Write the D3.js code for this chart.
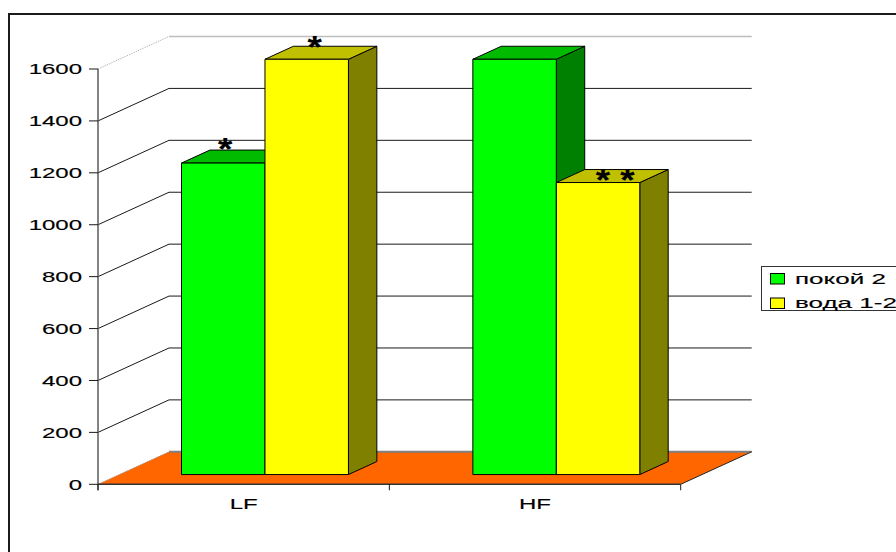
<!DOCTYPE html>
<html>
<head>
<meta charset="utf-8">
<script src="https://cdn.jsdelivr.net/npm/d3@7"></script>
<style>
  html, body { margin: 0; padding: 0; background: #fff; }
  svg { display: block; }
</style>
</head>
<body>
<svg id="chart" width="896" height="552"></svg>
<script>
// ---- data ----
const categories = ["LF", "HF"];
const seriesNames = ["покой 2", "вода 1-2"];
const restValues = [1200, 1600];   // покой 2
const waterValues = [1600, 1125];  // вода 1-2
const yTickValues = [0, 200, 400, 600, 800, 1000, 1200, 1400, 1600];
// significance marks: [category, series index, text]
const marks = [["LF", 0, "*"], ["LF", 1, "*"], ["HF", 1, "* *"]];

// ---- layout / style ----
const seriesFront = ["#00ff00", "#ffff00"];
const seriesTop = ["#00bb00", "#c0c000"];
const seriesSide = ["#008000", "#808000"];
const floorColor = "#ff6600";
const font = "'Liberation Sans', Arial, sans-serif";
const stretch = 1.6;              // wide, horizontally stretched lettering
const depth = { dx: 71, dy: -32.5 };
const barZ = [0.3, 0.7];          // bar position inside the depth of the box
const markNudge = [[2, -22], [8, -20], [17, -10]];

const svg = d3.select("#chart");

const x = d3.scaleBand().domain(categories).range([98, 680.7]);
const y = d3.scaleLinear().domain([0, 1600]).range([484.3, 69]);
const inner = d3.scaleBand().domain(d3.range(seriesNames.length))
  .range([x.bandwidth() * 0.2135, x.bandwidth() * 0.7865]);

const P = (px, v, z) => [px + z * depth.dx, y(v) + z * depth.dy];
const poly = pts => "M" + pts.map(p => p.join(",")).join("L") + "Z";

function label(g, tx, ty, text, anchor, size, weight, sx) {
  return g.append("text")
    .attr("transform", `translate(${tx},${ty}) scale(${sx || stretch},1)`)
    .attr("text-anchor", anchor)
    .attr("font-family", font)
    .attr("font-size", size)
    .attr("font-weight", weight || "normal")
    .attr("fill", "#000")
    .attr("stroke", "#000").attr("stroke-width", 0.15)
    .text(text);
}

// outer frame of the chart area
svg.append("rect")
  .attr("x", 9).attr("y", 14).attr("width", 1000).attr("height", 1000)
  .attr("fill", "#fff").attr("stroke", "#1a1a1a").attr("stroke-width", 2);

const x0 = x.range()[0], x1 = x.range()[1];
const vMax = y.domain()[1];

// floor
svg.append("path")
  .attr("d", poly([P(x0, 0, 0), P(x1, 0, 0), P(x1, 0, 1), P(x0, 0, 1)]))
  .attr("fill", floorColor);
svg.append("line")
  .attr("x1", P(x0, 0, 1)[0]).attr("y1", P(x0, 0, 1)[1])
  .attr("x2", P(x1, 0, 1)[0]).attr("y2", P(x1, 0, 1)[1])
  .attr("stroke", "#808080").attr("stroke-width", 2);
svg.append("line")
  .attr("x1", P(x0, 0, 0)[0]).attr("y1", P(x0, 0, 0)[1])
  .attr("x2", P(x0, 0, 1)[0]).attr("y2", P(x0, 0, 1)[1])
  .attr("stroke", "#999").attr("stroke-width", 1).attr("stroke-dasharray", "1,1");
svg.append("line")
  .attr("x1", P(x1, 0, 0)[0]).attr("y1", P(x1, 0, 0)[1])
  .attr("x2", P(x1, 0, 1)[0]).attr("y2", P(x1, 0, 1)[1])
  .attr("stroke", "#222").attr("stroke-width", 1);

// gridlines: diagonal on the side, horizontal across the back wall
const grid = svg.append("g");
yTickValues.filter(t => t > 0).forEach(t => {
  const top = t === vMax;
  const a = P(x0, t, 0), b = P(x0, t, 1), c = P(x1, t, 1);
  if (top) {
    grid.append("path").attr("d", `M${a}L${b}`).attr("fill", "none")
      .attr("stroke", "#aaa").attr("stroke-width", 1).attr("stroke-dasharray", "1,1");
    grid.append("path").attr("d", `M${b}L${c}`).attr("fill", "none")
      .attr("stroke", "#bdbdbd").attr("stroke-width", 1.5);
  } else {
    grid.append("path").attr("d", `M${a}L${b}L${c}`).attr("fill", "none")
      .attr("stroke", "#1a1a1a").attr("stroke-width", 1);
  }
});

// bars, back to front and left to right
const values = [restValues, waterValues];
const bars = [];
categories.forEach((c, ci) => {
  seriesNames.forEach((s, si) => {
    const v = values[si][ci];
    const xl = x(c) + inner(si), xr = xl + inner.bandwidth();
    bars.push({ c, si, v, xl, xr });
  });
});
const barG = svg.append("g").attr("stroke", "#000").attr("stroke-width", 1)
  .attr("stroke-linejoin", "round");
bars.forEach(b => {
  const [z0, z1] = barZ;
  const g = barG.append("g");
  g.append("path").attr("fill", seriesSide[b.si])
    .attr("d", poly([P(b.xr, 0, z0), P(b.xr, b.v, z0), P(b.xr, b.v, z1), P(b.xr, 0, z1)]));
  g.append("path").attr("fill", seriesTop[b.si])
    .attr("d", poly([P(b.xl, b.v, z0), P(b.xr, b.v, z0), P(b.xr, b.v, z1), P(b.xl, b.v, z1)]));
  g.append("path").attr("fill", seriesFront[b.si])
    .attr("d", poly([P(b.xl, 0, z0), P(b.xr, 0, z0), P(b.xr, b.v, z0), P(b.xl, b.v, z0)]));
});

// significance marks
marks.forEach((m, i) => {
  const b = bars.find(d => d.c === m[0] && d.si === m[1]);
  const p = P((b.xl + b.xr) / 2, b.v, barZ[0]);
  const cx = p[0] + markNudge[i][0], cy = p[1] + markNudge[i][1];
  const fs = 32;
  label(svg, cx, cy + 0.58 * fs, m[2], "middle", fs, "bold", 1.15);
});

// y axis
const yAxisG = svg.append("g");
yAxisG.append("line")
  .attr("x1", x0).attr("x2", x0).attr("y1", y(0) + 6).attr("y2", y(vMax))
  .attr("stroke", "#5a5a5a").attr("stroke-width", 1.5);
yTickValues.forEach(t => {
  yAxisG.append("line")
    .attr("x1", x0 - 9).attr("x2", x0).attr("y1", y(t)).attr("y2", y(t))
    .attr("stroke", "#1a1a1a").attr("stroke-width", 1);
  label(yAxisG, x0 - 16, y(t) + 5.4, d3.format("d")(t), "end", 15);
});

// x axis (front edge of the floor)
const xAxisG = svg.append("g");
xAxisG.append("line")
  .attr("x1", x0).attr("x2", x1).attr("y1", y(0)).attr("y2", y(0))
  .attr("stroke", "#333").attr("stroke-width", 1.5);
[x0, ...categories.slice(1).map(c => x(c)), x1].forEach(px => {
  xAxisG.append("line")
    .attr("x1", px).attr("x2", px).attr("y1", y(0)).attr("y2", y(0) + 6)
    .attr("stroke", "#1a1a1a").attr("stroke-width", 1);
});
categories.forEach(c => {
  label(xAxisG, x(c) + x.bandwidth() / 2, y(0) + 24.7, c, "middle", 15);
});

// legend
const lg = svg.append("g");
lg.append("rect")
  .attr("x", 761.5).attr("y", 266.5).attr("width", 300).attr("height", 44)
  .attr("fill", "#fff").attr("stroke", "#333").attr("stroke-width", 1);
seriesNames.forEach((s, i) => {
  const ry = 273 + i * 24.5;
  lg.append("rect")
    .attr("x", 770.5).attr("y", ry + 0.5).attr("width", 14).attr("height", 10.5)
    .attr("fill", seriesFront[i]).attr("stroke", "#000").attr("stroke-width", 1);
  label(lg, 795, ry + 10.7, s, "start", 15.5, "normal", 1.68);
});
</script>
</body>
</html>
